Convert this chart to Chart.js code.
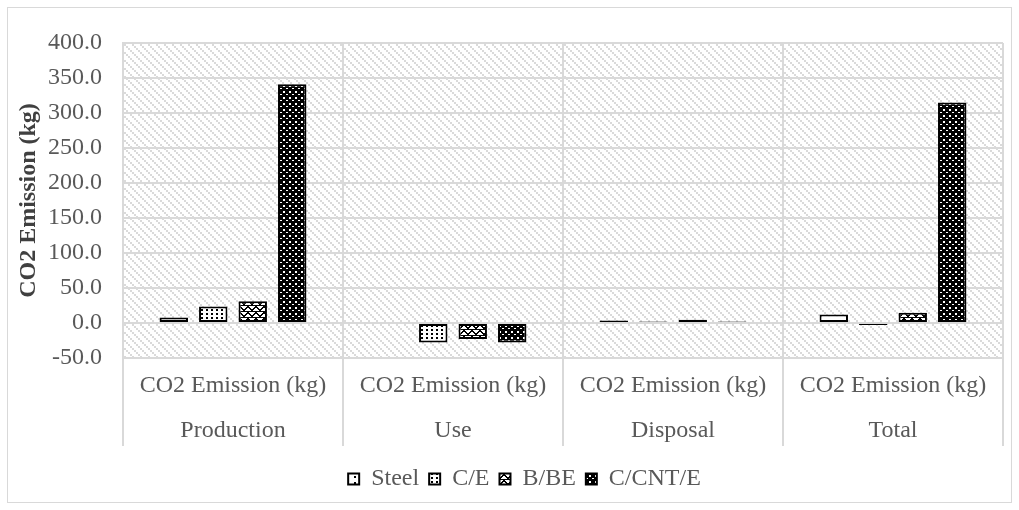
<!DOCTYPE html>
<html>
<head>
<meta charset="utf-8">
<script src="https://cdn.jsdelivr.net/npm/chart.js@4/dist/chart.umd.min.js"></script>
<style>
  html, body { margin: 0; padding: 0; background: #ffffff; }
  #wrap { width: 1019px; height: 510px; }
</style>
</head>
<body>
<div id="wrap"><canvas id="chart" width="1019" height="510"></canvas></div>
<script>
// Life-cycle stages and the shared measure shown under each of them
const categories = ['Production', 'Use', 'Disposal', 'Total'];
const measureLabel = 'CO2 Emission (kg)';

// CO2 emission per material, one value per stage (kg)
const seriesNames = ['Steel', 'C/E', 'B/BE', 'C/CNT/E'];
const steelValues = [8, 0, 3.5, 12];
const ceValues = [23.5, -28, 2.3, -3];
const bbeValues = [31, -23, 4.5, 14.5];
const ccnteValues = [341, -28, 2.0, 315];

// Value axis ticks
const yTicks = [-50, 0, 50, 100, 150, 200, 250, 300, 350, 400];

const FONT = 'Liberation Serif';

// Build a repeating fill pattern from a small tile drawing routine
function makePattern(w, h, draw) {
  const c = document.createElement('canvas');
  c.width = w; c.height = h;
  const g = c.getContext('2d');
  draw(g, w, h);
  return document.getElementById('chart').getContext('2d').createPattern(c, 'repeat');
}

// Sparse dots
const steelFill = makePattern(9, 6, (g, w, h) => {
  g.fillStyle = '#fff'; g.fillRect(0, 0, w, h);
  g.fillStyle = '#000'; g.fillRect(3, 2, 2, 2);
});
// Dense dots
const ceFill = makePattern(5, 4, (g, w, h) => {
  g.fillStyle = '#fff'; g.fillRect(0, 0, w, h);
  g.fillStyle = '#000'; g.fillRect(1, 1, 2, 2);
});
// Zigzag
const bbeFill = makePattern(8, 6, (g, w, h) => {
  g.fillStyle = '#fff'; g.fillRect(0, 0, w, h);
  g.fillStyle = '#000';
  const ys = [0, 1, 2, 3, 3, 2, 1, 0];
  for (let x = 0; x < 8; x++) g.fillRect(x, ys[x], 1, 2);
  g.fillRect(0, 5, 8, 1);
});
// Dark checker
const ccnteFill = makePattern(6, 6, (g, w, h) => {
  g.fillStyle = '#000'; g.fillRect(0, 0, w, h);
  g.fillStyle = '#fff';
  g.fillRect(1, 1, 2, 2);
  g.fillRect(4, 4, 2, 1);
});
// Light diagonal hatch behind the plot
const plotFill = makePattern(8, 8, (g, w, h) => {
  g.fillStyle = '#fff'; g.fillRect(0, 0, w, h);
  g.fillStyle = '#dadada';
  for (let k = 0; k < 4; k++) g.fillRect(k * 2, k * 2, 2, 2);
});

const fills = [steelFill, ceFill, bbeFill, ccnteFill];
const valueSets = [steelValues, ceValues, bbeValues, ccnteValues];

const datasets = seriesNames.map((name, i) => ({
  label: name,
  data: valueSets[i],
  backgroundColor: fills[i],
  borderColor: '#000000',
  borderWidth: 2,
  borderSkipped: false,
  categoryPercentage: 0.718,
  barPercentage: 0.72
}));

// Hatched plot background, legend nudge and a thin frame around the chart
const decorations = {
  id: 'decorations',
  afterLayout(chart) {
    const lg = chart.legend;
    if (lg) { lg.left += 18; lg.right += 18; }
  },
  beforeDraw(chart) {
    const { ctx, chartArea: a } = chart;
    ctx.save();
    ctx.fillStyle = '#ffffff';
    ctx.fillRect(0, 0, chart.width, chart.height);
    ctx.fillStyle = plotFill;
    ctx.fillRect(a.left, a.top, a.right - a.left, a.bottom - a.top);
    ctx.restore();
  },
  afterDraw(chart) {
    const { ctx } = chart;
    ctx.save();
    ctx.strokeStyle = '#d9d9d9';
    ctx.lineWidth = 1;
    ctx.strokeRect(7.5, 7.5, chart.width - 15, chart.height - 15);
    ctx.restore();
  }
};

new Chart(document.getElementById('chart'), {
  type: 'bar',
  data: {
    labels: categories.map(c => [measureLabel, c]),
    datasets
  },
  plugins: [decorations],
  options: {
    responsive: false,
    animation: false,
    devicePixelRatio: 1,
    layout: { padding: { left: 10, top: 43, right: 16, bottom: 9 } },
    plugins: {
      tooltip: { enabled: false },
      legend: {
        position: 'bottom',
        labels: {
          font: { family: FONT, size: 24 },
          color: '#595959',
          boxWidth: 11,
          boxHeight: 11,
          padding: 10
        }
      }
    },
    scales: {
      x: {
        afterFit(scale) { scale.height = 99; },
        grid: {
          offset: true,
          color: '#d9d9d9',
          lineWidth: 2,
          drawTicks: true,
          tickLength: 88,
          tickColor: '#d9d9d9',
          tickWidth: 2
        },
        border: { color: '#d9d9d9', width: 2 },
        ticks: {
          font: { family: FONT, size: 24, lineHeight: 1.875 },
          color: '#595959',
          padding: -82.5,
          maxRotation: 0,
          autoSkip: false
        }
      },
      y: {
        min: yTicks[0],
        max: yTicks[yTicks.length - 1],
        afterFit(scale) { scale.width = 113; },
        afterBuildTicks(scale) { scale.ticks = yTicks.map(v => ({ value: v })); },
        grid: { color: '#d9d9d9', lineWidth: 2, drawTicks: false },
        border: { color: '#d9d9d9', width: 2 },
        ticks: {
          font: { family: FONT, size: 24 },
          color: '#595959',
          padding: 21,
          callback: v => Number(v).toFixed(1)
        },
        title: {
          display: true,
          text: measureLabel,
          font: { family: FONT, size: 24, weight: 'bold', lineHeight: 1.2 },
          color: '#404040',
          padding: { top: 4, bottom: 0 }
        }
      }
    }
  }
});
</script>
</body>
</html>
